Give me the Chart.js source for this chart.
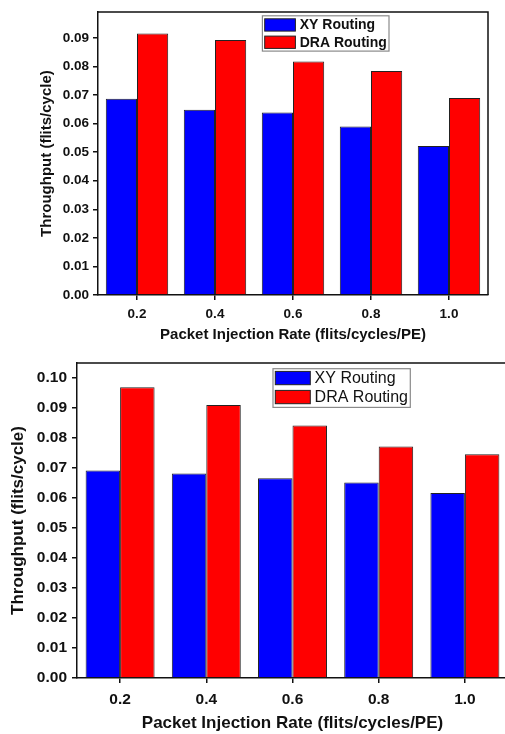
<!DOCTYPE html>
<html><head><meta charset="utf-8">
<script src="https://cdn.jsdelivr.net/npm/chart.js@4/dist/chart.umd.min.js"></script>
<style>
html,body{margin:0;padding:0;background:#fff;overflow:hidden;}
#wrap1{position:absolute;left:0;top:0;width:505px;height:345px;}
#wrap2{position:absolute;left:0;top:345px;width:505px;height:389px;overflow:hidden;}
canvas{display:block;}
</style></head><body>
<div id="wrap1"><canvas id="c1" width="505" height="345"></canvas></div>
<div id="wrap2"><canvas id="c2" width="515" height="389"></canvas></div>
<script>
const categories = ['0.2', '0.4', '0.6', '0.8', '1.0'];
const seriesNames = ['XY Routing', 'DRA Routing'];
const topXY = [0.0687, 0.0648, 0.0639, 0.0590, 0.0521];
const topDRA = [0.0915, 0.0892, 0.0817, 0.0784, 0.0689];
const bottomXY = [0.0692, 0.0682, 0.0666, 0.0652, 0.0617];
const bottomDRA = [0.0969, 0.0910, 0.0842, 0.0772, 0.0746];
const xTitle = 'Packet Injection Rate (flits/cycles/PE)';
const yTitle = 'Throughput (flits/cycle)';
const topYMax = 0.099;
const bottomYMax = 0.105;
const yStep = 0.01;

const FONT = '"Liberation Sans", Arial, sans-serif';

const frame = {
  id: 'frame',
  afterDraw(chart) {
    const ctx = chart.ctx, ca = chart.chartArea;
    ctx.save();
    ctx.strokeStyle = '#111';
    ctx.lineWidth = 1.5;
    ctx.beginPath();
    ctx.moveTo(ca.left, ca.top);
    ctx.lineTo(ca.right, ca.top);
    ctx.lineTo(ca.right, ca.bottom);
    ctx.stroke();
    ctx.restore();
  }
};

const boxLegend = {
  id: 'boxLegend',
  afterDraw(chart, args, o) {
    const ctx = chart.ctx, ca = chart.chartArea;
    const x = ca.left + o.dx, y = ca.top + o.dy;
    ctx.save();
    ctx.fillStyle = '#fff';
    ctx.fillRect(x, y, o.w, o.h);
    ctx.strokeStyle = '#8a8a8a';
    ctx.lineWidth = 1.2;
    ctx.strokeRect(x, y, o.w, o.h);
    chart.data.datasets.forEach((ds, i) => {
      const ry = y + o.rows[i];
      ctx.fillStyle = ds.backgroundColor;
      ctx.fillRect(x + o.sx, ry, o.sw, o.sh);
      ctx.strokeStyle = '#222';
      ctx.lineWidth = 1;
      ctx.strokeRect(x + o.sx, ry, o.sw, o.sh);
      ctx.fillStyle = '#111';
      ctx.font = o.font;
      ctx.textBaseline = 'middle';
      ctx.textAlign = 'left';
      ctx.fillText(ds.label, x + o.tx, ry + o.sh / 2 + 0.5);
    });
    ctx.restore();
  }
};

function makeChart(id, xy, dra, yMax, cfg) {
  return new Chart(document.getElementById(id), {
    type: 'bar',
    data: {
      labels: categories,
      datasets: [
        { label: seriesNames[0], data: xy, backgroundColor: '#0000ff', borderColor: '#222', borderWidth: 1, categoryPercentage: 0.8, barPercentage: 1.0 },
        { label: seriesNames[1], data: dra, backgroundColor: '#ff0000', borderColor: '#222', borderWidth: 1, categoryPercentage: 0.8, barPercentage: 1.0 }
      ]
    },
    plugins: [frame, boxLegend],
    options: {
      responsive: false,
      animation: false,
      devicePixelRatio: 1,
      layout: { padding: { top: cfg.padTop, right: cfg.padRight, left: 0, bottom: 0 } },
      plugins: {
        legend: { display: false },
        tooltip: { enabled: false },
        boxLegend: cfg.legend
      },
      scales: {
        x: {
          offset: true,
          grid: { offset: false, drawOnChartArea: false, drawTicks: true, tickLength: 5, color: '#111', lineWidth: 1.5 },
          border: { color: '#111', width: 1.5 },
          ticks: { color: '#111', font: { family: FONT, size: cfg.tickSize, weight: 'bold' }, padding: cfg.xTickPad, maxRotation: 0 },
          title: { display: true, text: xTitle, color: '#111', font: { family: FONT, size: cfg.titleSize, weight: 'bold' }, padding: { top: 0, bottom: cfg.xTitlePad } },
          afterFit(s) { s.height = cfg.xHeight; }
        },
        y: {
          min: 0,
          max: yMax,
          grid: { drawOnChartArea: false, drawTicks: true, tickLength: 5, color: '#111', lineWidth: 1.5 },
          border: { color: '#111', width: 1.5 },
          ticks: { stepSize: yStep, includeBounds: false, color: '#111', font: { family: FONT, size: cfg.tickSize, weight: 'bold' }, padding: cfg.yTickPad, callback: v => v.toFixed(2) },
          afterBuildTicks(s) { s.ticks = s.ticks.filter(t => Math.abs(t.value / yStep - Math.round(t.value / yStep)) < 1e-6); },
          title: { display: true, text: yTitle, color: '#111', font: { family: FONT, size: cfg.titleSize, weight: 'bold' }, padding: { top: cfg.yTitlePad, bottom: 0 } },
          afterFit(s) { s.width = cfg.yWidth; }
        }
      }
    }
  });
}

makeChart('c1', topXY, topDRA, topYMax, {
  padTop: 11, padRight: 17, xHeight: 50, yWidth: 98,
  tickSize: 13.5, titleSize: 15, xTickPad: 6, yTickPad: 4, xTitlePad: 1, yTitlePad: 37.7,
  legend: { dx: 164.4, dy: 3.7, w: 126.6, h: 35.3, sx: 2.3, sw: 30.7, sh: 12.3, rows: [3, 20.3], tx: 37.3, font: 'bold 14px ' + FONT }
});

makeChart('c2', bottomXY, bottomDRA, bottomYMax, {
  padTop: 18, padRight: 7, xHeight: 56, yWidth: 77,
  tickSize: 15.5, titleSize: 17, xTickPad: 7, yTickPad: 5, xTitlePad: 0, yTitlePad: 8.5,
  legend: { dx: 196, dy: 5.7, w: 137.3, h: 38.7, sx: 2.3, sw: 35, sh: 13.3, rows: [2.7, 21.7], tx: 41.6, font: '16px ' + FONT }
});
</script>
</body></html>
